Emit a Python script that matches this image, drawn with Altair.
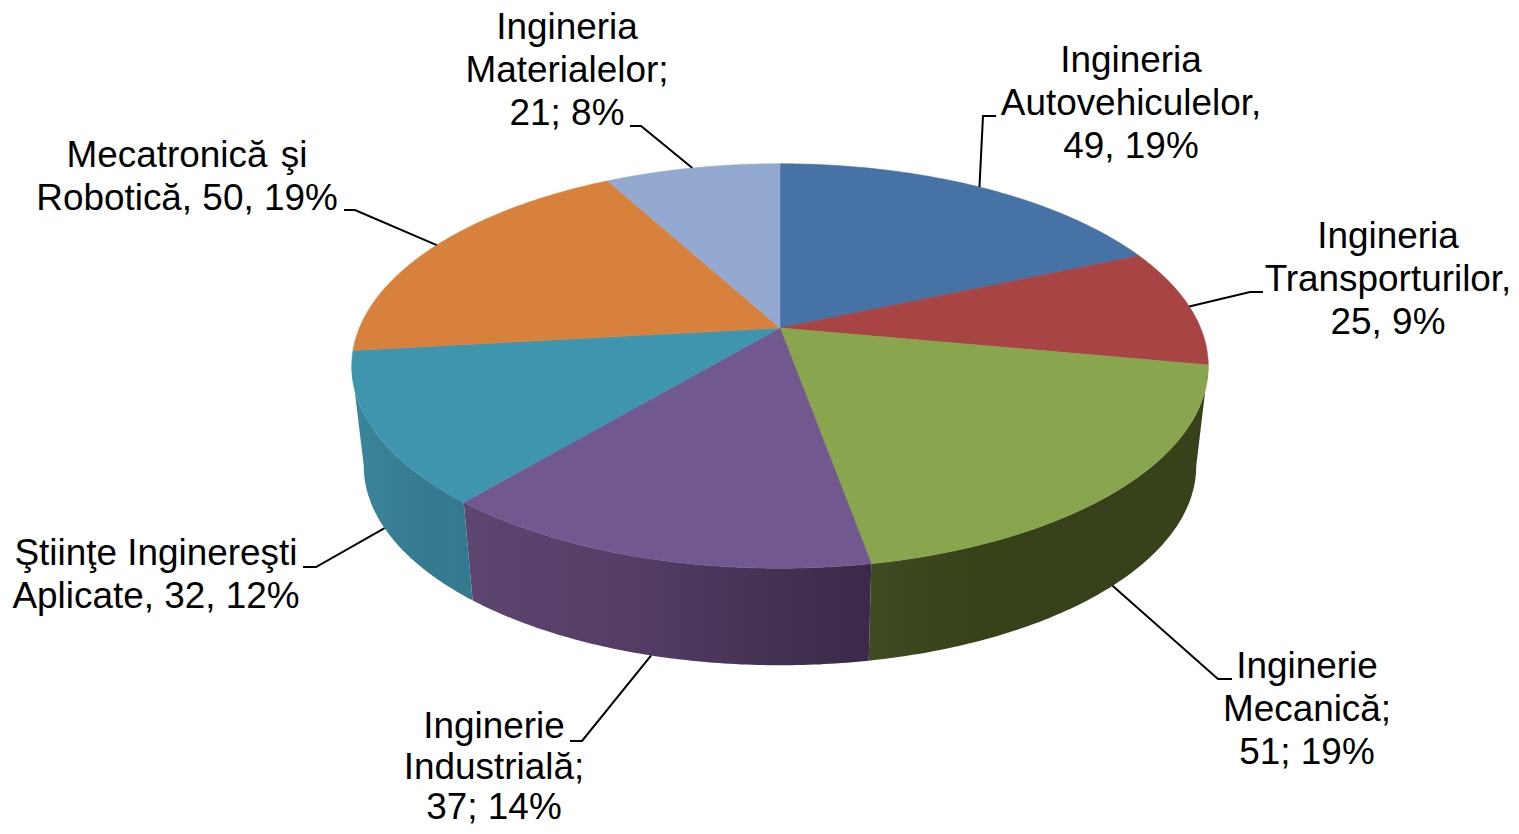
import numpy as np
import pandas as pd
import altair as alt

# ---- data ----------------------------------------------------------------
names = ["Ingineria Autovehiculelor", "Ingineria Transporturilor", "Inginerie Mecanică",
         "Inginerie Industrială", "Ştiinţe Inginereşti Aplicate", "Mecatronică şi Robotică",
         "Ingineria Materialelor"]
values = [49, 25, 51, 37, 32, 50, 21]
top_colors = ["#4672a6", "#a84544", "#89a54e", "#71588f", "#4095ae", "#d8813c", "#93a9cf"]
wall_stops = {
    2: [(0, "#3f4b22"), (0.3, "#384219"), (1, "#37411a")],
    3: [(0, "#5d4771"), (0.45, "#523c63"), (0.8, "#413050"), (1, "#3a2949")],
    4: [(0, "#3a869b"), (0.6, "#35798f"), (1, "#347a8e")],
}
label_lines = [
    ["Ingineria", "Autovehiculelor,", "49, 19%"],
    ["Ingineria", "Transporturilor,", "25, 9%"],
    ["Inginerie", "Mecanică;", "51; 19%"],
    ["Inginerie", "Industrială;", "37; 14%"],
    ["Ştiinţe Inginereşti", "Aplicate, 32, 12%"],
    ["Mecatronică \u200aşi", "Robotică, 50, 19%"],
    ["Ingineria", "Materialelor;", "21; 8%"],
]
label_x = [1131, 1388, 1307, 494, 156, 187, 567]
label_y = [60, 236, 666, 726, 553, 155, 27]
label_gap = [43.2, 43.2, 43.2, 40.5, 43.2, 43.2, 43.2]
elbow = [(983, 115), (1250, 291), (1218, 678), (582, 740), (316, 566), (355, 209), (641, 125)]
leader_end = [(996, 115), (1263, 291), (1232, 678), (570, 740), (303, 566), (344, 209), (630, 125)]
front_leader = [False, False, True, True, True, False, False]

# ---- projection of the tilted disc ---------------------------------------
CX, CY = 780.0, 327.0
A, H, K = 420.6, 195.1, -0.188


def rim(theta):
    """Top rim point for a clockwise angle (radians) measured from twelve o'clock."""
    sx, sy = np.sin(theta), -np.cos(theta)
    d = 1 + K * sy
    return CX + A * sx / d, CY + H * sy / d


def base(x, y):
    """Lower rim point below a top rim point."""
    return 780 + (x - 780) * 416 / 428, 465 + (y - 365) * 199 / 202


cum = np.concatenate([[0], np.cumsum(values)]) / sum(values) * 2 * np.pi
wall_from, wall_to = np.radians(100.8), np.radians(259.2)

layers = []
X = alt.X("x:Q", axis=None, scale=alt.Scale(domain=[8, 1511], nice=False, zero=False))
Y = alt.Y("y:Q", axis=None, scale=alt.Scale(domain=[825, 7], nice=False, zero=False))

# side walls
for i, stops in wall_stops.items():
    t = np.linspace(max(cum[i], wall_from), min(cum[i + 1], wall_to), 80)
    xs, ys = rim(t)
    bx, by = base(xs, ys)
    df = pd.DataFrame({"x": np.r_[xs, bx[::-1]], "y": np.r_[ys, by[::-1]]})
    df["i"] = range(len(df))
    grad = alt.LinearGradient(gradient="linear", x1=0, y1=0, x2=1, y2=0,
                              stops=[alt.GradientStop(offset=o, color=c) for o, c in stops])
    layers.append(alt.Chart(df).mark_line(fill=grad, strokeWidth=0).encode(x=X, y=Y, order="i:Q"))

# top faces
for i, col in enumerate(top_colors):
    t = np.linspace(cum[i], cum[i + 1], 80)
    xs, ys = rim(t)
    df = pd.DataFrame({"x": np.r_[CX, xs, CX], "y": np.r_[CY, ys, CY]})
    df["i"] = range(len(df))
    layers.append(alt.Chart(df).mark_line(fill=col, stroke=col, strokeWidth=0.6).encode(x=X, y=Y, order="i:Q"))

# leader lines
rows = []
for i in range(len(values)):
    sx, sy = rim((cum[i] + cum[i + 1]) / 2)
    if front_leader[i]:
        sx, sy = base(sx, sy)
    for j, (px, py) in enumerate([(sx, sy), elbow[i], leader_end[i]]):
        rows.append({"name": names[i], "x": px, "y": py, "i": j})
layers.append(alt.Chart(pd.DataFrame(rows)).mark_line(color="#000000", strokeWidth=2).encode(
    x=X, y=Y, order="i:Q", detail="name:N"))

# labels
rows = []
for i, lines in enumerate(label_lines):
    for j, s in enumerate(lines):
        rows.append({"x": label_x[i], "y": label_y[i] + j * label_gap[i], "s": s})
layers.append(alt.Chart(pd.DataFrame(rows)).mark_text(
    font="Liberation Sans", fontSize=36.9, color="#000000", align="center", baseline="middle"
).encode(x=X, y=Y, text="s:N"))

chart = alt.layer(*layers).properties(
    width=1503, height=818, padding=0, autosize=alt.AutoSizeParams(type="none")
).configure_view(stroke=None)
chart.save("out.html", embed_options={"renderer": "svg", "actions": False})
